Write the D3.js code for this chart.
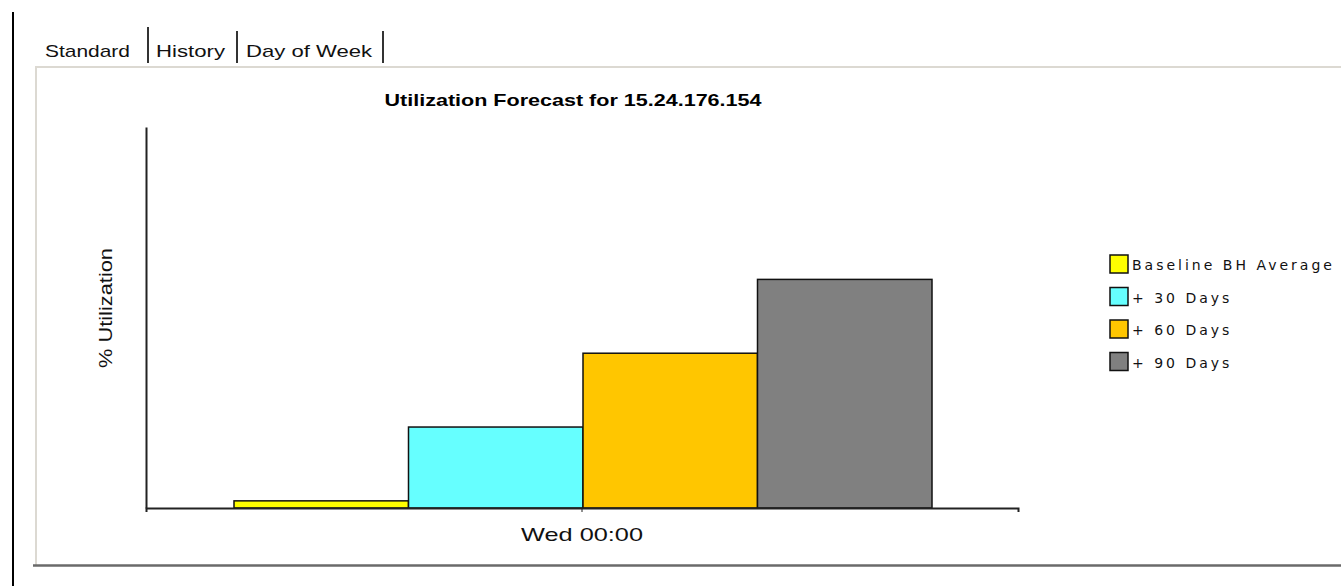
<!DOCTYPE html>
<html>
<head>
<meta charset="utf-8">
<script src="https://cdn.jsdelivr.net/npm/d3@7"></script>
<style>
  body { margin: 0; background: #fff; }
  svg text { font-family: "Liberation Sans", Arial, sans-serif; }
</style>
</head>
<body>
<div id="chart"></div>
<script>
// data
var categories = ["Wed 00:00"];
var seriesNames = ["Baseline BH Average", "+ 30 Days", "+ 60 Days", "+ 90 Days"];
var seriesColors = ["#ffff00", "#66ffff", "#ffc600", "#808080"];
var seriesValues = [1.2, 13.6, 26.0, 38.4];
var tabs = ["Standard", "History", "Day of Week"];

var width = 1341, height = 586;
var svg = d3.select("#chart").append("svg")
  .attr("width", width)
  .attr("height", height);

// left page rule
svg.append("line")
  .attr("x1", 13).attr("x2", 13).attr("y1", 12).attr("y2", height)
  .attr("stroke", "#000").attr("stroke-width", 2);

// tabs
var tabX = [45, 156, 246];
var tabW = [85, 69, 126];
var sepX = [148, 237, 383];
tabs.forEach(function(t, i){
  svg.append("text")
    .attr("x", tabX[i]).attr("y", 57)
    .attr("font-size", 17)
    .attr("textLength", tabW[i])
    .attr("lengthAdjust", "spacingAndGlyphs")
    .attr("fill", "#111")
    .text(t);
  svg.append("line")
    .attr("x1", sepX[i]).attr("x2", sepX[i])
    .attr("y1", i == 0 ? 27 : 31).attr("y2", 63)
    .attr("stroke", "#333").attr("stroke-width", 2);
});

// panel frame
svg.append("line").attr("x1", 35).attr("x2", width).attr("y1", 67).attr("y2", 67)
  .attr("stroke", "#dcd9d2").attr("stroke-width", 2);
svg.append("line").attr("x1", 36).attr("x2", 36).attr("y1", 66).attr("y2", 565)
  .attr("stroke", "#dcd9d2").attr("stroke-width", 2);
svg.append("line").attr("x1", 33).attr("x2", width).attr("y1", 565.5).attr("y2", 565.5)
  .attr("stroke", "#6a6a6a").attr("stroke-width", 2.5);

// chart area
var margin = {left: 146, right: 1018, top: 127, bottom: 508};

var x = d3.scaleBand()
  .domain(categories)
  .range([margin.left, margin.right])
  .paddingInner(0).paddingOuter(0);

var xs = d3.scaleBand()
  .domain(seriesNames)
  .range([x(categories[0]) + 88, x(categories[0]) + x.bandwidth() - 86]);

var y = d3.scaleLinear()
  .domain([0, 64])
  .range([margin.bottom, margin.top]);

svg.append("text")
  .attr("x", 573).attr("y", 106)
  .attr("text-anchor", "middle")
  .attr("font-size", 17).attr("font-weight", "bold")
  .attr("textLength", 377)
  .attr("lengthAdjust", "spacingAndGlyphs")
  .text("Utilization Forecast for 15.24.176.154");

svg.append("g")
  .selectAll("rect")
  .data(seriesValues)
  .enter().append("rect")
  .attr("x", function(d, i){ return xs(seriesNames[i]); })
  .attr("y", function(d){ return y(d); })
  .attr("width", xs.bandwidth())
  .attr("height", function(d){ return y(0) - y(d); })
  .attr("fill", function(d, i){ return seriesColors[i]; })
  .attr("stroke", "#111").attr("stroke-width", 1.5);

// axes
var xAxis = svg.append("g")
  .attr("transform", "translate(0," + margin.bottom + ")")
  .call(d3.axisBottom(x).tickSize(4).tickPadding(16));
xAxis.select(".domain").attr("stroke", "#222").attr("stroke-width", 2);
xAxis.selectAll(".tick line").attr("stroke", "#222");
xAxis.selectAll(".tick text")
  .attr("font-size", 19).attr("fill", "#111")
  .attr("textLength", 122)
  .attr("lengthAdjust", "spacingAndGlyphs")
  .style("font-family", "Liberation Sans, Arial, sans-serif");

var yAxis = svg.append("g")
  .attr("transform", "translate(" + margin.left + ",0)")
  .call(d3.axisLeft(y).tickValues([]).tickSizeOuter(0));
yAxis.select(".domain").attr("stroke", "#222").attr("stroke-width", 2);

svg.append("text")
  .attr("transform", "translate(112,308) rotate(-90)")
  .attr("text-anchor", "middle")
  .attr("font-size", 18).attr("fill", "#111")
  .attr("textLength", 120)
  .attr("lengthAdjust", "spacingAndGlyphs")
  .text("% Utilization");

// legend
var legend = svg.append("g")
  .selectAll("g")
  .data(seriesNames)
  .enter().append("g")
  .attr("transform", function(d, i){ return "translate(1110," + (255 + i * 32.5) + ")"; });

legend.append("rect")
  .attr("width", 18).attr("height", 18)
  .attr("fill", function(d, i){ return seriesColors[i]; })
  .attr("stroke", "#111").attr("stroke-width", 1.5);

legend.append("text")
  .attr("x", 22).attr("y", 15)
  .attr("font-size", 14)
  .attr("letter-spacing", 3)
  .attr("fill", "#111")
  .style("font-family", "DejaVu Sans, Verdana, sans-serif")
  .text(function(d){ return d; });
</script>
</body>
</html>
